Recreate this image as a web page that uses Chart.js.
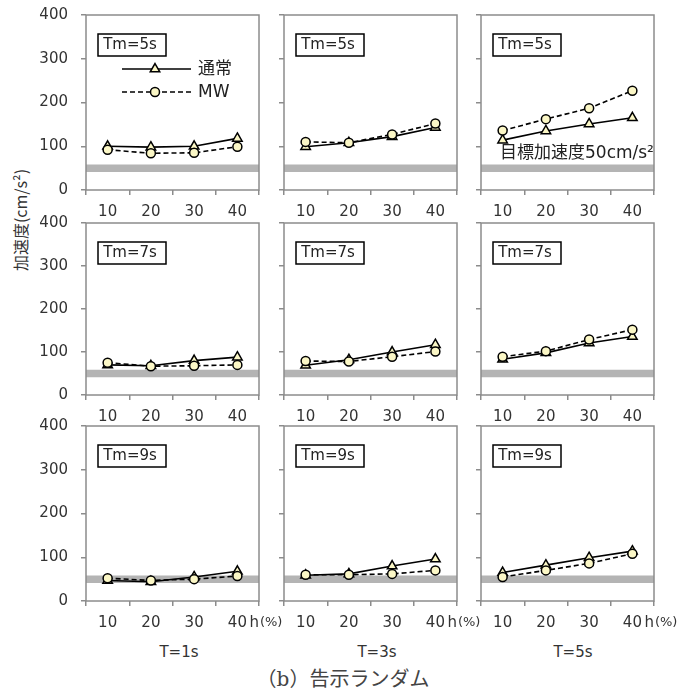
<!DOCTYPE html>
<html lang="ja">
<head>
<meta charset="utf-8">
<script src="https://cdn.jsdelivr.net/npm/chart.js@4.4.1/dist/chart.umd.min.js"></script>
<style>
  html, body { margin: 0; padding: 0; background: #fff; }
  body { width: 693px; height: 689px; position: relative; overflow: hidden;
         font-family: "DejaVu Sans", "Noto Sans CJK JP", sans-serif; color: #333; }
  canvas { position: absolute; }
  .lbl { position: absolute; white-space: nowrap; transform: translate(-50%, -50%); }
</style>
</head>
<body>
<div class="lbl" id="ytitle" style="left:20px;top:220px;font-size:16px;font-family:'Noto Sans CJK JP',sans-serif;transform:translate(-50%,-50%) rotate(-90deg);">加速度(cm/s²)</div>
<div class="lbl" style="left:179px;top:652px;font-size:15px;">T=1s</div>
<div class="lbl" style="left:377px;top:652px;font-size:15px;">T=3s</div>
<div class="lbl" style="left:573px;top:652px;font-size:15px;">T=5s</div>
<div class="lbl" style="left:343px;top:677px;font-size:20px;font-family:'DejaVu Serif','Noto Sans CJK JP',serif;color:#444;">（b）告示ランダム</div>
<script>
// Data
const hLabels = ["10", "20", "30", "40"];
const tmLabels = ["Tm=5s", "Tm=7s", "Tm=9s"];
const seriesNames = ["通常", "MW"];
const yTicks = [0, 100, 200, 300, 400];
const targetAccel = 50;
const targetText = "目標加速度50cm/s²";

// 通常 / MW, rows = Tm, cols = T
const normal_Tm5_T1 = [100, 98, 100, 118];
const mw_Tm5_T1     = [92, 84, 85, 99];
const normal_Tm5_T3 = [99, 108, 122, 143];
const mw_Tm5_T3     = [110, 108, 127, 152];
const normal_Tm5_T5 = [114, 135, 151, 165];
const mw_Tm5_T5     = [136, 162, 187, 227];

const normal_Tm7_T1 = [70, 68, 80, 88];
const mw_Tm7_T1     = [75, 67, 68, 70];
const normal_Tm7_T3 = [69, 82, 100, 117];
const mw_Tm7_T3     = [79, 78, 89, 101];
const normal_Tm7_T5 = [83, 98, 121, 136];
const mw_Tm7_T5     = [89, 102, 129, 152];

const normal_Tm9_T1 = [47, 44, 55, 68];
const mw_Tm9_T1     = [52, 47, 50, 57];
const normal_Tm9_T3 = [59, 62, 80, 96];
const mw_Tm9_T3     = [60, 60, 62, 70];
const normal_Tm9_T5 = [65, 82, 99, 114];
const mw_Tm9_T5     = [55, 70, 86, 108];

const panels = [
  [[normal_Tm5_T1, mw_Tm5_T1], [normal_Tm5_T3, mw_Tm5_T3], [normal_Tm5_T5, mw_Tm5_T5]],
  [[normal_Tm7_T1, mw_Tm7_T1], [normal_Tm7_T3, mw_Tm7_T3], [normal_Tm7_T5, mw_Tm7_T5]],
  [[normal_Tm9_T1, mw_Tm9_T1], [normal_Tm9_T3, mw_Tm9_T3], [normal_Tm9_T5, mw_Tm9_T5]],
];

// Layout (plot area of each panel)
const colLeft = [86, 284, 481];
const rowTop = [15, 223, 426];
const rowH = [175, 172, 175];
const plotW = 173;
const padL = 80, padR = 40, padB = 40;

const AXIS_GRAY = "#8c8c8c";
const MARK_FILL = "#fbf7c6";
const FONT = '"DejaVu Sans", "Noto Sans CJK JP", sans-serif';

Chart.defaults.font.family = FONT;
Chart.defaults.color = "#333";

function drawMarker(ctx, style, x, y, r) {
  ctx.beginPath();
  if (style === "triangle") {
    for (let i = 0; i < 3; i++) {
      const ang = (i * 2 * Math.PI) / 3;
      const px = x + Math.sin(ang) * r, py = y - Math.cos(ang) * r;
      if (i === 0) ctx.moveTo(px, py); else ctx.lineTo(px, py);
    }
    ctx.closePath();
  } else {
    ctx.arc(x, y, r, 0, Math.PI * 2);
  }
  ctx.fill();
  ctx.stroke();
}

// target band, frame, Tm box, legend, extra labels
const panelDeco = {
  id: "panelDeco",
  beforeDatasetsDraw(chart, args, o) {
    const { ctx, chartArea: a, scales: { y } } = chart;
    ctx.save();
    const yb = y.getPixelForValue(targetAccel);
    ctx.strokeStyle = "#b4b4b4";
    ctx.lineWidth = 7.5;
    ctx.beginPath();
    ctx.moveTo(a.left, yb);
    ctx.lineTo(a.right, yb);
    ctx.stroke();
    ctx.strokeStyle = AXIS_GRAY;
    ctx.lineWidth = 1.5;
    ctx.strokeRect(a.left, a.top, a.right - a.left, a.bottom - a.top);
    ctx.restore();
  },
  afterDatasetsDraw(chart, args, o) {
    const { ctx, chartArea: a, scales: { x, y } } = chart;
    ctx.save();
    // Tm box
    ctx.fillStyle = "#fff";
    ctx.strokeStyle = "#000";
    ctx.lineWidth = 1.5;
    ctx.fillRect(a.left + 12, a.top + 19, 68, 22);
    ctx.strokeRect(a.left + 12, a.top + 19, 68, 22);
    ctx.fillStyle = "#222";
    ctx.font = "15px " + FONT;
    ctx.textAlign = "center";
    ctx.textBaseline = "middle";
    ctx.fillText(o.tm, a.left + 44, a.top + 30.5);

    if (o.legend) {
      const rows = [a.top + 54, a.top + 77];
      chart.data.datasets.forEach((ds, i) => {
        const ly = rows[i];
        ctx.strokeStyle = "#000";
        ctx.lineWidth = 1.5;
        ctx.setLineDash(ds.borderDash || []);
        ctx.beginPath();
        ctx.moveTo(a.left + 36, ly);
        ctx.lineTo(a.left + 105, ly);
        ctx.stroke();
        ctx.setLineDash([]);
        ctx.fillStyle = MARK_FILL;
        drawMarker(ctx, ds.pointStyle, a.left + 69, ly, ds.pointRadius);
        ctx.fillStyle = "#222";
        ctx.font = "17px " + FONT;
        ctx.textAlign = "left";
        ctx.fillText(ds.label, a.left + 112, ly + 1);
      });
    }

    if (o.target) {
      ctx.fillStyle = "#222";
      ctx.font = "17px " + FONT;
      ctx.textAlign = "left";
      ctx.textBaseline = "middle";
      ctx.fillText(targetText, a.left + 19, y.getPixelForValue(targetAccel) - 15);
    }

    if (o.hUnit) {
      const hx = x.getPixelForValue(hLabels.length - 1) + 12;
      const hy = a.bottom + 22;
      ctx.fillStyle = "#333";
      ctx.textAlign = "left";
      ctx.textBaseline = "middle";
      ctx.font = "15px " + FONT;
      ctx.fillText("h", hx, hy);
      const w = ctx.measureText("h").width;
      ctx.font = "13px " + FONT;
      ctx.fillText("(%)", hx + w + 1, hy);
    }
    ctx.restore();
  },
};

function panelConfig(r, c) {
  const [normal, mw] = panels[r][c];
  return {
    type: "line",
    data: {
      labels: hLabels,
      datasets: [
        {
          label: seriesNames[0],
          data: normal,
          borderColor: "#000",
          borderWidth: 1.6,
          pointStyle: "triangle",
          pointRadius: 5.5,
          pointBackgroundColor: MARK_FILL,
          pointBorderColor: "#000",
          pointBorderWidth: 1.5,
          tension: 0,
          order: 1,
        },
        {
          label: seriesNames[1],
          data: mw,
          borderColor: "#000",
          borderWidth: 1.6,
          borderDash: [5, 3],
          pointStyle: "circle",
          pointRadius: 4.5,
          pointBackgroundColor: MARK_FILL,
          pointBorderColor: "#000",
          pointBorderWidth: 1.5,
          tension: 0,
          order: 0,
        },
      ],
    },
    options: {
      responsive: false,
      maintainAspectRatio: false,
      animation: false,
      events: [],
      layout: { padding: { left: 0, right: padR, top: 0, bottom: 0 } },
      plugins: {
        legend: { display: false },
        tooltip: { enabled: false },
        panelDeco: {
          tm: tmLabels[r],
          legend: r === 0 && c === 0,
          target: r === 0 && c === 2,
          hUnit: r === 2,
        },
      },
      scales: {
        x: {
          type: "category",
          offset: true,
          border: { display: false },
          grid: { offset: true, drawOnChartArea: false, drawTicks: true, tickLength: 5, color: AXIS_GRAY, lineWidth: 1.5 },
          ticks: { padding: 8, font: { size: 15 }, color: "#333", maxRotation: 0, autoSkip: false },
          afterFit: (s) => { s.height = padB; },
        },
        y: {
          min: yTicks[0],
          max: yTicks[yTicks.length - 1],
          border: { display: false },
          grid: { drawOnChartArea: false, drawTicks: true, tickLength: 5, color: AXIS_GRAY, lineWidth: 1.5 },
          ticks: { stepSize: yTicks[1] - yTicks[0], padding: 13, font: { size: 15 }, color: "#333", display: c === 0 },
          afterFit: (s) => { s.width = padL; },
        },
      },
    },
    plugins: [panelDeco],
  };
}

function makeCanvas(w, h) {
  const cv = document.createElement("canvas");
  cv.width = w;
  cv.height = h;
  document.body.appendChild(cv);
  return cv;
}

function makePanel(r, c) {
  // first pass: find how much room the axes take, then size the canvas to fit the plot box
  const W0 = padL + plotW + padR + 20, H0 = rowH[r] + padB + 30;
  const probe = makeCanvas(W0, H0);
  const tmp = new Chart(probe, panelConfig(r, c));
  const a = tmp.chartArea;
  const insetT = a.top, insetB = H0 - a.bottom, insetL = a.left, insetR = W0 - a.right;
  tmp.destroy();
  probe.remove();

  const cv = makeCanvas(insetL + plotW + insetR, insetT + rowH[r] + insetB);
  const chart = new Chart(cv, panelConfig(r, c));
  cv.style.left = (colLeft[c] - chart.chartArea.left) + "px";
  cv.style.top = (rowTop[r] - chart.chartArea.top) + "px";
}

for (let r = 0; r < 3; r++) {
  for (let c = 0; c < 3; c++) makePanel(r, c);
}
</script>
</body>
</html>
